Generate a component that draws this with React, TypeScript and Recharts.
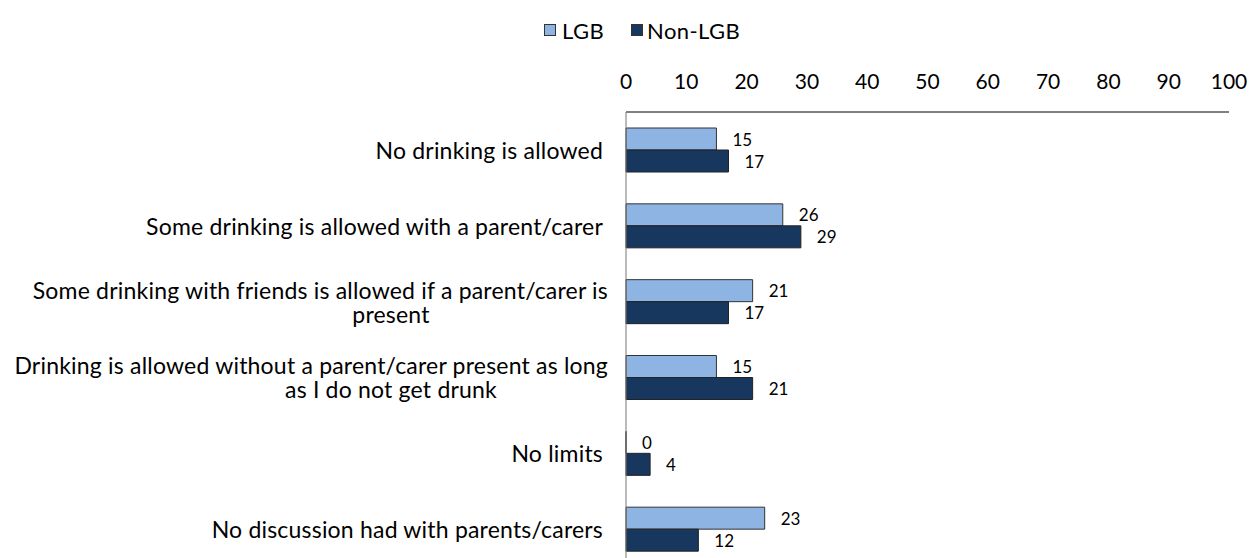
import React from "react";
import { BarChart, Bar, XAxis, YAxis, Legend, LabelList } from "recharts";

const categories = [
  "No drinking is allowed",
  "Some drinking is allowed with a parent/carer",
  "Some drinking with friends is allowed if a parent/carer is present",
  "Drinking is allowed without a parent/carer present as long as I do not get drunk",
  "No limits",
  "No discussion had with parents/carers",
];
const lgbValues = [15, 26, 21, 15, 0, 23];
const nonLgbValues = [17, 29, 17, 21, 4, 12];
const xTicks = [0, 10, 20, 30, 40, 50, 60, 70, 80, 90, 100];

const data = categories.map((c, i) => ({ name: c, lgb: lgbValues[i], nonLgb: nonLgbValues[i] }));

const FONT = "Lato, 'Open Sans', sans-serif";
const LIGHT = "#8EB4E3";
const DARK = "#17375E";

function wrap(text: string, maxChars: number): string[] {
  const words = text.split(" ");
  const lines: string[] = [];
  let cur = "";
  for (const w of words) {
    const next = cur ? cur + " " + w : w;
    if (next.length > maxChars && cur) {
      lines.push(cur);
      cur = w;
    } else {
      cur = next;
    }
  }
  if (cur) lines.push(cur);
  return lines;
}

const YTick = (props: any) => {
  const { x, y, payload } = props;
  const lines = wrap(String(payload.value), 58);
  const lh = 24;
  const start = y - ((lines.length - 1) * lh) / 2;
  return (
    <g>
      {lines.map((l, i) => {
        const multi = lines.length > 1;
        const anchor = multi && i > 0 ? "middle" : "end";
        const tx = multi ? (i === 0 ? x + 5 : x - 212) : x;
        return (
          <text
            key={i}
            x={tx}
            y={start + i * lh}
            textAnchor={anchor}
            fontFamily={FONT}
            fontSize={23}
            letterSpacing={0.2}
            fill="#000"
            dominantBaseline="central"
          >
            {l}
          </text>
        );
      })}
    </g>
  );
};

const ValueLabel = (props: any) => {
  const { x, y, width, height, value } = props;
  if (value === undefined || value === null) return null;
  return (
    <text x={x + width + 16} y={y + height / 2} fontFamily={FONT} fontSize={17} fill="#000" dominantBaseline="central">
      {value}
    </text>
  );
};

const LegendContent = () => (
  <div style={{ display: "flex", alignItems: "center", fontFamily: FONT, fontSize: 22, letterSpacing: 0.4, height: 30 }}>
    <span style={{ display: "inline-block", width: 10, height: 10, background: LIGHT, border: "1px solid #333", marginRight: 6 }} />
    <span style={{ marginRight: 27 }}>LGB</span>
    <span style={{ display: "inline-block", width: 10, height: 10, background: DARK, border: "1px solid #333", marginRight: 4 }} />
    <span>Non-LGB</span>
  </div>
);

export default function App() {
  return (
    <div style={{ width: 1245, height: 550, overflow: "hidden" }}>
      <style>{"body { margin-right: 0; } #root { width: 1245px; }"}</style>
      <BarChart
        width={1252}
        height={570}
        data={data}
        layout="vertical"
        margin={{ top: 14, right: 31, bottom: 11, left: 0 }}
        barGap={0}
        barSize={22}
      >
        <Legend verticalAlign="top" align="left" content={<LegendContent />} wrapperStyle={{ top: 7, left: 536, width: 260 }} height={40} />
        <XAxis
          type="number"
          orientation="top"
          domain={[0, 100]}
          ticks={xTicks}
          interval={0}
          tickLine={false}
          axisLine={{ stroke: "#000" }}
          tick={{ fill: "#000", fontSize: 21, fontFamily: FONT }}
          tickMargin={17}
          height={50}
        />
        <YAxis
          type="category"
          dataKey="name"
          width={618}
          tickLine={false}
          tickSize={0}
          tickMargin={23}
          axisLine={{ stroke: "#777" }}
          tick={<YTick />}
          interval={0}
        />
        <Bar dataKey="lgb" name="LGB" fill={LIGHT} stroke="#333" strokeWidth={1} minPointSize={0.01} isAnimationActive={false}>
          <LabelList dataKey="lgb" content={<ValueLabel />} />
        </Bar>
        <Bar dataKey="nonLgb" name="Non-LGB" fill={DARK} stroke="#222" strokeWidth={1} isAnimationActive={false}>
          <LabelList dataKey="nonLgb" content={<ValueLabel />} />
        </Bar>
      </BarChart>
    </div>
  );
}
